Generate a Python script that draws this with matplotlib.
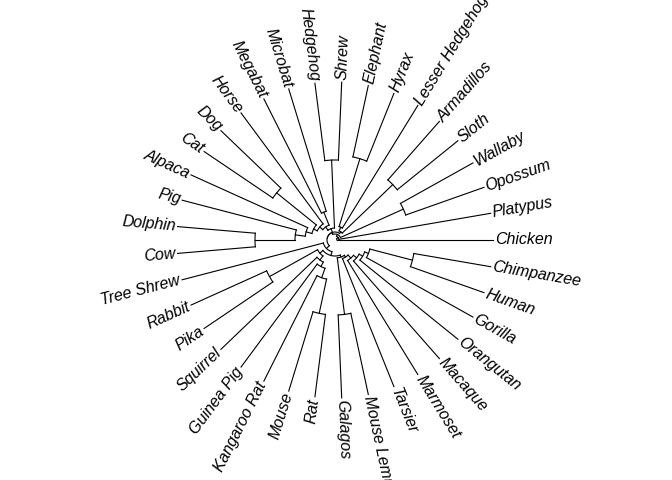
import numpy as np
import matplotlib
matplotlib.use("Agg")
import matplotlib.pyplot as plt

# tip order counter-clockwise from Chicken
tips = ["Chicken", "Platypus", "Opossum", "Wallaby", "Sloth", "Armadillos",
        "Lesser Hedgehog", "Hyrax", "Elephant", "Shrew", "Hedgehog", "Microbat",
        "Megabat", "Horse", "Dog", "Cat", "Alpaca", "Pig", "Dolphin", "Cow",
        "Tree Shrew", "Rabbit", "Pika", "Squirrel", "Guinea Pig", "Kangaroo Rat",
        "Mouse", "Rat", "Galagos", "Mouse Lemur", "Tarsier", "Marmoset", "Macaque",
        "Orangutan", "Gorilla", "Human", "Chimpanzee"]

# internal nodes: (radius, children); radius in pixels from centre, tips at TIP_R
tree = (2, ["Chicken",
  (4, ["Platypus",
    (6, [(75, ["Opossum", "Wallaby"]),
      (8, [
        (10, [(80, ["Sloth", "Armadillos"]),
              (14, ["Lesser Hedgehog", (85, ["Hyrax", "Elephant"])])]),
        (8, [
          (12, [(80, ["Shrew", "Hedgehog"]),
                (16, [(30, ["Microbat", "Megabat"]),
                      (20, ["Horse",
                            (24, [(75, ["Dog", "Cat"]),
                                  (30, ["Alpaca", (40, ["Pig", (80, ["Dolphin", "Cow"])])])])])])]),
          (12, ["Tree Shrew",
                (16, [(20, [(75, ["Rabbit", "Pika"]),
                            (25, ["Squirrel", (30, ["Guinea Pig", (40, ["Kangaroo Rat", (75, ["Mouse", "Rat"])])])])]),
                      (18, [(75, ["Galagos", "Mouse Lemur"]),
                            (20, ["Tarsier", (24, ["Marmoset", (28, ["Macaque",
                                  (32, ["Orangutan", (36, ["Gorilla", (80, ["Human", "Chimpanzee"])])])])])])])])])])])])])])

TIP_R = 158
step = 2 * np.pi / len(tips)
tip_ang = {t: i * step for i, t in enumerate(tips)}

fig = plt.figure(figsize=(6.72, 4.8), dpi=100)
ax = fig.add_axes([0, 0, 1, 1])
ax.set_xlim(-335, 337)
ax.set_ylim(-240, 240)
ax.set_aspect("equal")
ax.axis("off")

def draw(node, parent_r):
    if isinstance(node, str):
        a = tip_ang[node]
        ax.plot([parent_r * np.cos(a), TIP_R * np.cos(a)],
                [parent_r * np.sin(a), TIP_R * np.sin(a)], color="black", lw=0.8)
        return a
    r, kids = node
    angs = [draw(k, r) for k in kids]
    a0, a1 = min(angs), max(angs)
    t = np.linspace(a0, a1, 50)
    ax.plot(r * np.cos(t), r * np.sin(t), color="black", lw=0.8)
    a = (a0 + a1) / 2
    ax.plot([parent_r * np.cos(a), r * np.cos(a)],
            [parent_r * np.sin(a), r * np.sin(a)], color="black", lw=0.8)
    return a

draw(tree, tree[0])

for t in tips:
    a = tip_ang[t]
    deg = np.degrees(a)
    x, y = (TIP_R + 2) * np.cos(a), (TIP_R + 2) * np.sin(a)
    if 90 < deg < 270:
        ax.text(x, y, t, rotation=deg - 180, ha="right", va="center",
                rotation_mode="anchor", fontsize=11.5, style="italic", family="Liberation Sans")
    else:
        ax.text(x, y, t, rotation=deg, ha="left", va="center",
                rotation_mode="anchor", fontsize=11.5, style="italic", family="Liberation Sans")

fig.savefig("out.png", dpi=100)
